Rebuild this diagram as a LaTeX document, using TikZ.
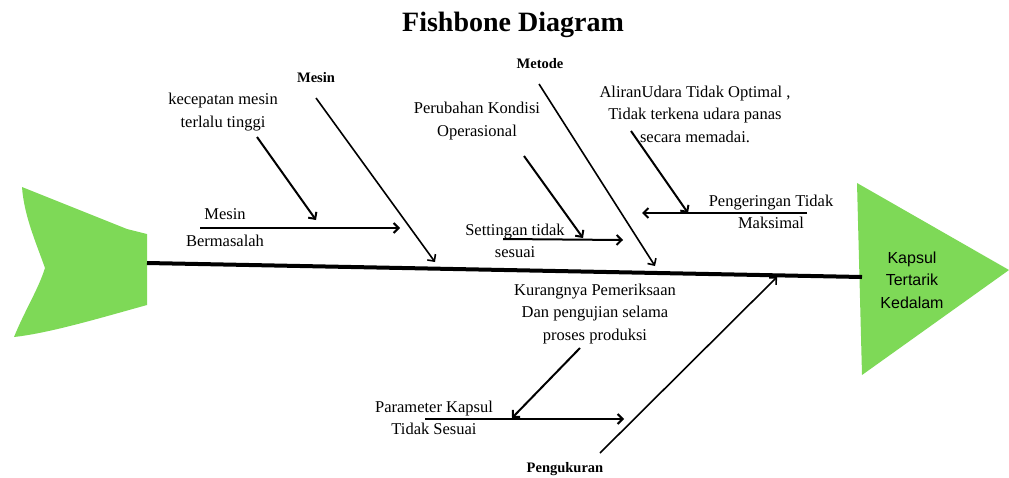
\documentclass[tikz,border=0pt]{standalone}
\usepackage{fontspec}
\setmainfont{Liberation Serif}
\newfontfamily\headfont{Liberation Sans}
\usetikzlibrary{arrows.meta}
\definecolor{fishgreen}{RGB}{126,217,87}

\tikzset{
  cause/.style={font=\fontsize{16.5}{22.5}\selectfont, align=center, inner sep=0pt},
  group/.style={font=\bfseries\fontsize{14.5}{17}\selectfont, inner sep=0pt},
  bone/.style={line width=1.6pt, -{Straight Barb[length=5pt,width=10pt]}},
  twig/.style={line width=2pt, -{Straight Barb[length=5pt,width=10pt]}},
}

\begin{document}
\begin{tikzpicture}[x=1pt,y=-1pt]
    \useasboundingbox (0,0) rectangle (1009,477);
    % tail and head
    \fill [fishgreen] (22,187) -- (127,229) .. controls (137,232) .. (147,234) -- (147,305)
        .. controls (100,318) and (50,333) .. (14,337)
        .. controls (25,310) and (38,290) .. (45,268)
        .. controls (35,240) and (24,215) .. (22,187);
    \fill [fishgreen] (857,183) -- (1009,270) -- (862,375) -- cycle;
    \node [font=\headfont\fontsize{16}{22.5}\selectfont, align=center] (effect) at (912,280) {Kapsul\\Tertarik\\Kedalam};
    \node [font=\bfseries\fontsize{28}{32}\selectfont] (title) at (513,25) {Fishbone Diagram};

    % spine
    \coordinate (spineL) at (147,263);
    \coordinate (spineR) at (862,277);
    \draw [line width=4pt] (spineL) -- (spineR);

    % group labels
    \node [group] (mesin) at (316,78) {Mesin};
    \node [group] (metode) at (540,64) {Metode};
    \node [group] (ukur) at (565,469) {Pengukuran};

    % causes
    \node [cause] (cepat) at (223,112) {kecepatan mesin\\terlalu tinggi};
    \node [cause, font=\fontsize{16.5}{27}\selectfont] (rusak) at (225,228) {Mesin\\Bermasalah};
    \node [cause] (kondisi) at (477,121) {Perubahan Kondisi\\Operasional};
    \node [cause] (setting) at (515,241) {Settingan tidak\\sesuai};
    \node [cause] (aliran) at (695,114) {AliranUdara Tidak Optimal ,\\Tidak terkena udara panas\\secara memadai.};
    \node [cause] (kering) at (771,212) {Pengeringan Tidak\\Maksimal};
    \node [cause] (periksa) at (595,314) {Kurangnya Pemeriksaan\\Dan pengujian selama\\proses produksi};
    \node [cause] (param) at (434,418) {Parameter Kapsul\\Tidak Sesuai};

    % bones
    \coordinate (mesinA) at (316,98);   \coordinate (mesinB) at (435,262);
    \coordinate (metodeA) at (539,84);  \coordinate (metodeB) at (655,266);
    \coordinate (ukurA) at (600,453);   \coordinate (ukurB) at (777,277);
    \draw [bone] (mesinA) -- (mesinB);
    \draw [bone] (metodeA) -- (metodeB);
    \draw [bone] (ukurA) -- (ukurB);

    % twigs
    \coordinate (cepatA) at (257,137);   \coordinate (cepatB) at (316,220);
    \coordinate (rusakA) at (200,228);   \coordinate (rusakB) at (400,228);
    \coordinate (kondisiA) at (524,156); \coordinate (kondisiB) at (583,238);
    \coordinate (settingA) at (503,239); \coordinate (settingB) at (623,240);
    \coordinate (aliranA) at (631,131);  \coordinate (aliranB) at (688,213);
    \coordinate (keringA) at (807,213);  \coordinate (keringB) at (642,213);
    \coordinate (periksaA) at (580,348); \coordinate (periksaB) at (512,418);
    \coordinate (paramA) at (425,419);   \coordinate (paramB) at (624,419);
    \draw [twig] (cepatA) -- (cepatB);
    \draw [twig] (rusakA) -- (rusakB);
    \draw [twig] (kondisiA) -- (kondisiB);
    \draw [twig] (settingA) -- (settingB);
    \draw [twig] (aliranA) -- (aliranB);
    \draw [twig] (keringA) -- (keringB);
    \draw [twig] (periksaA) -- (periksaB);
    \draw [twig] (paramA) -- (paramB);
\end{tikzpicture}
\end{document}
